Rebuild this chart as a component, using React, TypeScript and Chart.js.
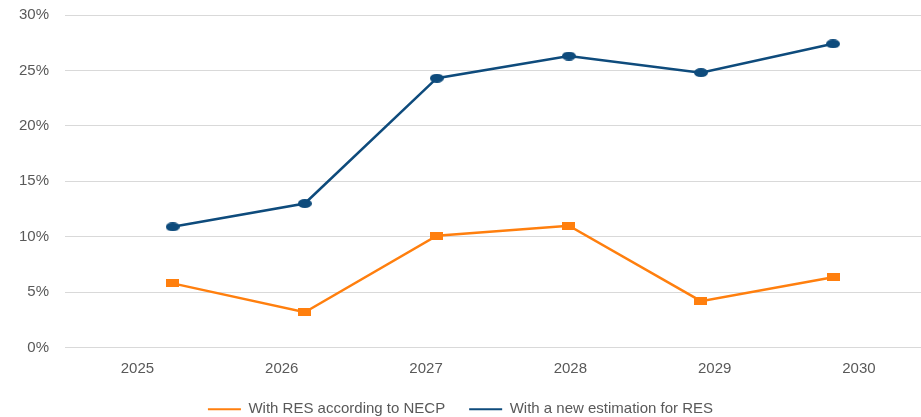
import React, { useEffect, useRef } from "react";
import { Chart, registerables } from "chart.js";

Chart.register(...registerables);

const years = ["2025", "2026", "2027", "2028", "2029", "2030"];
const seriesNames = ["With RES according to NECP", "With a new estimation for RES"];
const necpValues = [5.8, 3.2, 10.1, 11.0, 4.2, 6.35];
const newEstimateValues = [10.9, 13.0, 24.3, 26.3, 24.8, 27.4];
const yMin = 0;
const yMax = 30;
const yStep = 5;

const ORANGE = "#FF7F0E";
const BLUE = "#0E4B7C";
const TEXT = "#595959";
const GRID = "#D9D9D9";
const FONT = "'Liberation Sans', Arial, sans-serif";

function makeMarker(kind: "ellipse" | "rect", color: string): HTMLCanvasElement {
  const c = document.createElement("canvas");
  if (kind === "ellipse") {
    c.width = 14;
    c.height = 9;
    const ctx = c.getContext("2d")!;
    ctx.fillStyle = color;
    ctx.beginPath();
    ctx.ellipse(7, 4.5, 7, 4.5, 0, 0, Math.PI * 2);
    ctx.fill();
  } else {
    c.width = 13;
    c.height = 8;
    const ctx = c.getContext("2d")!;
    ctx.fillStyle = color;
    ctx.fillRect(0, 0, 13, 8);
  }
  return c;
}

export default function App() {
  const ref = useRef<HTMLCanvasElement | null>(null);

  useEffect(() => {
    document.body.style.margin = "0";
    document.body.style.background = "#ffffff";
    if (!ref.current) return;
    const idx = years.map((_, i) => i);
    const chart = new Chart(ref.current, {
      type: "line",
      data: {
        datasets: [
          {
            label: seriesNames[0],
            data: idx.map((i) => ({ x: i, y: necpValues[i] })),
            xAxisID: "xData",
            yAxisID: "y",
            borderColor: ORANGE,
            backgroundColor: ORANGE,
            borderWidth: 2.5,
            pointStyle: makeMarker("rect", ORANGE),
            pointRadius: 5,
            tension: 0,
          },
          {
            label: seriesNames[1],
            data: idx.map((i) => ({ x: i, y: newEstimateValues[i] })),
            xAxisID: "xData",
            yAxisID: "y",
            borderColor: BLUE,
            backgroundColor: BLUE,
            borderWidth: 2.5,
            pointStyle: makeMarker("ellipse", BLUE),
            pointRadius: 5,
            tension: 0,
          },
        ],
      },
      options: {
        responsive: false,
        animation: false,
        layout: { autoPadding: false, padding: { top: 15, left: 0, right: 0, bottom: 0 } },
        plugins: {
          tooltip: { enabled: false },
          legend: {
            position: "bottom",
            maxHeight: 39.3,
            labels: {
              boxWidth: 33,
              boxHeight: 2,
              padding: 24,
              color: TEXT,
              font: { family: FONT, size: 15 },
              generateLabels: (c: any) =>
                Chart.defaults.plugins.legend.labels
                  .generateLabels(c)
                  .map((l: any) => ({ ...l, lineWidth: 0, fillStyle: l.strokeStyle })),
            },
          },
        },
        scales: {
          x: {
            type: "linear",
            position: "bottom",
            min: -0.502,
            max: 5.43,
            grid: { display: false, drawTicks: true, tickLength: 12, tickColor: "rgba(0,0,0,0)" },
            border: { display: false },
            ticks: {
              stepSize: 1,
              includeBounds: false,
              autoSkip: false,
              maxRotation: 0,
              padding: 0,
              color: TEXT,
              font: { family: FONT, size: 15 },
              callback: (v: any) => (Number.isInteger(v) && years[v] !== undefined ? years[v] : ""),
            },
          },
          xData: {
            type: "linear",
            display: false,
            min: -0.8155,
            max: 5.666,
          },
          y: {
            type: "linear",
            min: yMin,
            max: yMax,
            afterFit: (s: any) => {
              s.width = 65;
            },
            grid: { color: GRID, lineWidth: 1, drawTicks: true, tickLength: 16, tickColor: "rgba(0,0,0,0)" },
            border: { display: false },
            ticks: {
              stepSize: yStep,
              padding: 0,
              color: TEXT,
              font: { family: FONT, size: 15 },
              callback: (v: any) => `${v}%`,
            },
          },
        },
      },
    } as any);
    return () => chart.destroy();
  }, []);

  return (
    <div style={{ width: 921, height: 417, background: "#fff" }}>
      <canvas ref={ref} width={921} height={417} style={{ display: "block" }} />
    </div>
  );
}
